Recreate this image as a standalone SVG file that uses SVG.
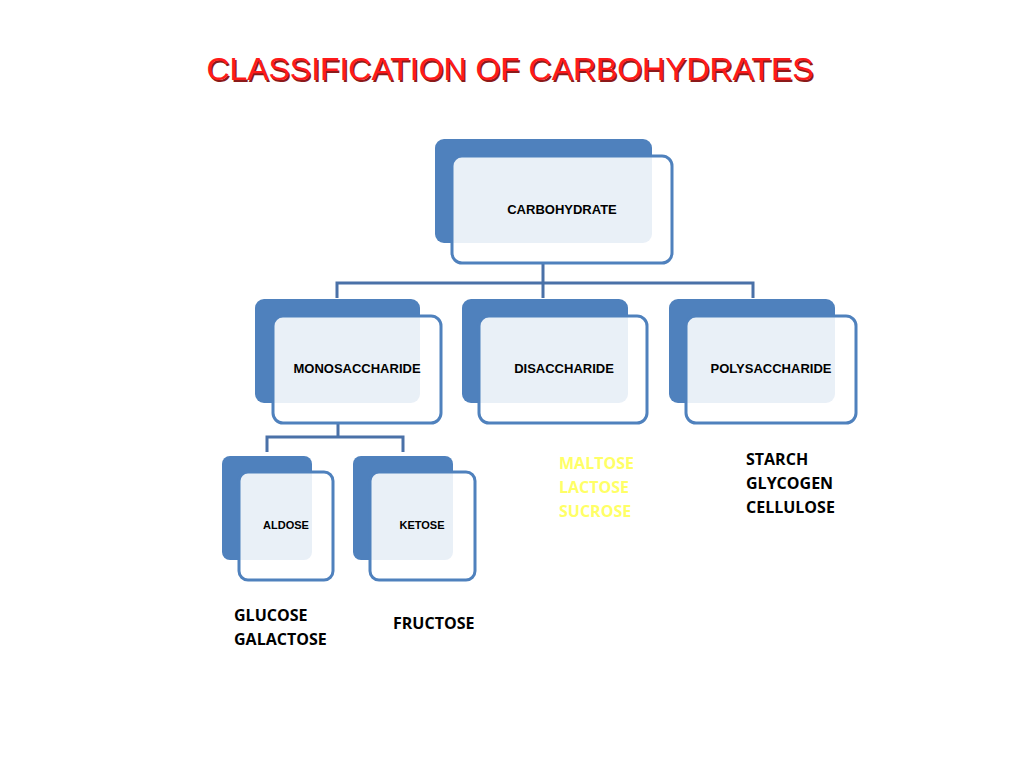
<svg xmlns="http://www.w3.org/2000/svg" width="1024" height="768" viewBox="0 0 1024 768">
<style>
.bk{fill:#4f81bd}
.fr{fill:#ffffff;fill-opacity:0.88;stroke:#4f81bd;stroke-width:3}
.lb{font-family:"Liberation Sans",Arial,sans-serif;font-weight:bold;fill:#000;text-anchor:middle}
.ln{fill:none;stroke:#4a71a8;stroke-width:3}
.it{font-family:"Open Sans","Liberation Sans",sans-serif;font-weight:bold;font-size:16px}
</style>
<rect width="1024" height="768" fill="#fff"/>
<text x="510" y="80" text-anchor="middle" font-family="'Liberation Sans Narrow','Liberation Sans',sans-serif" font-size="32" fill="#8b1a1a" textLength="607" lengthAdjust="spacingAndGlyphs" transform="translate(1.5,1.5)">CLASSIFICATION OF CARBOHYDRATES</text>
<text x="510" y="80" text-anchor="middle" font-family="'Liberation Sans Narrow','Liberation Sans',sans-serif" font-size="32" fill="#ff1a1a" textLength="607" lengthAdjust="spacingAndGlyphs">CLASSIFICATION OF CARBOHYDRATES</text>
<g id="connectors">
<path class="ln" d="M543 263V283M337 298V283H753V298M543 283V298"/>
<path class="ln" d="M338 423V437M267 452V437H403V452"/>
</g>
<g id="carbohydrate"><rect class="bk" x="435" y="139" width="217" height="104" rx="9"/><rect class="fr" x="452" y="156" width="220" height="107" rx="10"/><text class="lb" x="562" y="214" font-size="13">CARBOHYDRATE</text></g>
<g id="mono"><rect class="bk" x="255" y="299" width="165" height="104" rx="9"/><rect class="fr" x="273" y="316" width="168" height="107" rx="10"/><text class="lb" x="357" y="373" font-size="13">MONOSACCHARIDE</text></g>
<g id="di"><rect class="bk" x="462" y="299" width="166" height="104" rx="9"/><rect class="fr" x="479" y="316" width="168" height="107" rx="10"/><text class="lb" x="564" y="373" font-size="13">DISACCHARIDE</text></g>
<g id="poly"><rect class="bk" x="669" y="299" width="166" height="104" rx="9"/><rect class="fr" x="686" y="316" width="170" height="107" rx="10"/><text class="lb" x="771" y="373" font-size="13">POLYSACCHARIDE</text></g>
<g id="aldose"><rect class="bk" x="222" y="456" width="90" height="104" rx="8"/><rect class="fr" x="239" y="472" width="94" height="108" rx="9"/><text class="lb" x="286" y="529" font-size="11">ALDOSE</text></g>
<g id="ketose"><rect class="bk" x="353" y="456" width="100" height="104" rx="8"/><rect class="fr" x="370" y="472" width="105" height="108" rx="9"/><text class="lb" x="422" y="529" font-size="11">KETOSE</text></g>
<g id="lists" class="it">
<text x="559" y="469" fill="#ffff66">MALTOSE</text><text x="559" y="493" fill="#ffff66">LACTOSE</text><text x="559" y="517" fill="#ffff66">SUCROSE</text>
<text x="746" y="465">STARCH</text><text x="746" y="489">GLYCOGEN</text><text x="746" y="513">CELLULOSE</text>
<text x="234" y="621">GLUCOSE</text><text x="234" y="645">GALACTOSE</text>
<text x="393" y="629">FRUCTOSE</text>
</g>
</svg>
